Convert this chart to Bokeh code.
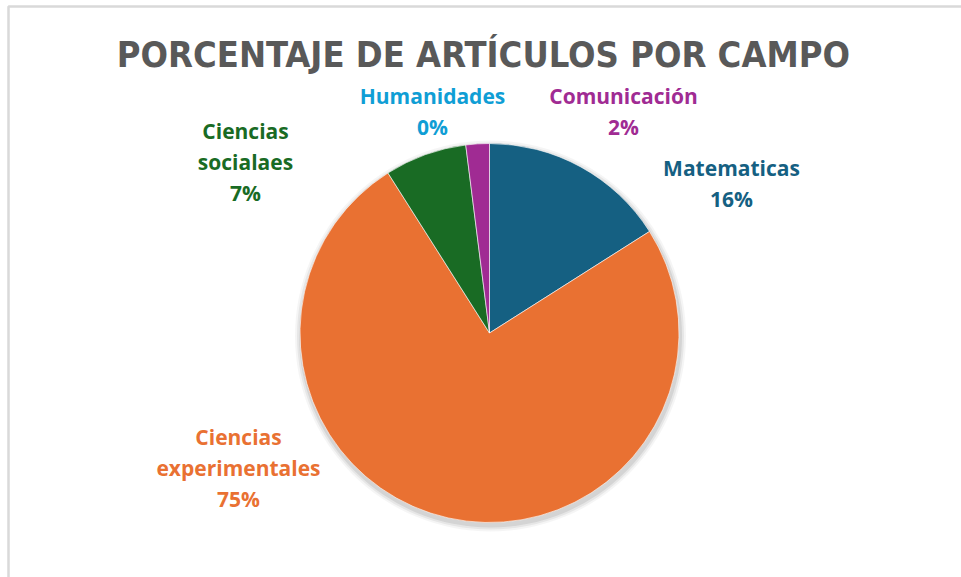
import numpy as np
from bokeh.plotting import figure
from bokeh.models import Range1d, ColumnDataSource
from bokeh.core.properties import value
from bokeh.embed import file_html
from bokeh.resources import INLINE

# ---- data ----
categories = ["Matematicas", "Ciencias experimentales", "Ciencias socialaes", "Humanidades", "Comunicación"]
percentages = [16, 75, 7, 0, 2]
colors = ["#156082", "#E97132", "#196B24", "#0F9ED5", "#A02B93"]
title_text = "PORCENTAJE DE ARTÍCULOS  POR CAMPO"

# ---- layout (pixel-like coordinates, y measured from top) ----
W, H = 961, 577
CX, CY, R = 489, 332.5, 189.5
label_pos = {
    "Matematicas": (731, 167),
    "Ciencias experimentales": (238, 436),
    "Ciencias socialaes": (245, 130),
    "Humanidades": (432, 95),
    "Comunicación": (623, 95),
}
label_lines = {
    "Ciencias experimentales": ["Ciencias", "experimentales"],
    "Ciencias socialaes": ["Ciencias", "socialaes"],
}
LINE_H = 31

def fy(y):
    return H - y

p = figure(width=W, height=H, x_range=Range1d(0, W), y_range=Range1d(0, H),
           output_backend="svg", toolbar_location=None, min_border=0)
p.axis.visible = False
p.grid.visible = False
p.outline_line_color = None
p.background_fill_color = "white"
p.border_fill_color = "white"

# chart border (light grey)
p.line(x=[8, 8, W + 5], y=[fy(H + 5), fy(6), fy(6)], line_color="#D9D9D9", line_width=2.5)

# title
p.text(x=[W / 2 + 8], y=[fy(54)], text=[title_text], text_align="center", text_baseline="middle",
       text_font=value("DejaVu Sans Condensed"), text_font_style="bold", text_font_size="36px",
       text_color="#595959")

# soft shadow
for dr, a in [(6, 0.04), (4, 0.06), (2, 0.08)]:
    p.circle(x=[CX + 1], y=[fy(CY + 3)], radius=R + dr, fill_color="black", fill_alpha=a, line_color=None)

# pie wedges (zero-valued slices are not drawn)
vals = np.array(percentages, dtype=float)
frac = vals / vals.sum()
ends = np.cumsum(frac) * 2 * np.pi
starts = ends - frac * 2 * np.pi
keep = vals > 0
src = ColumnDataSource(dict(
    cat=[c for c, k in zip(categories, keep) if k],
    color=[c for c, k in zip(colors, keep) if k],
    start=(np.pi / 2 - starts)[keep], end=(np.pi / 2 - ends)[keep],
))
p.wedge(x=CX, y=fy(CY), radius=R, start_angle="start", end_angle="end", direction="clock",
        fill_color="color", line_color="white", line_width=0.6, source=src)

# labels
for cat, pct, col in zip(categories, percentages, colors):
    lines = label_lines.get(cat, [cat]) + [f"{pct}%"]
    x0, y0 = label_pos[cat]
    ys = [fy(y0 + i * LINE_H) for i in range(len(lines))]
    p.text(x=[x0] * len(lines), y=ys, text=lines, text_align="center", text_baseline="middle",
           text_font=value("Open Sans"), text_font_style="bold", text_font_size="21px", text_color=col)

open("out.html", "w").write(file_html(p, INLINE))
